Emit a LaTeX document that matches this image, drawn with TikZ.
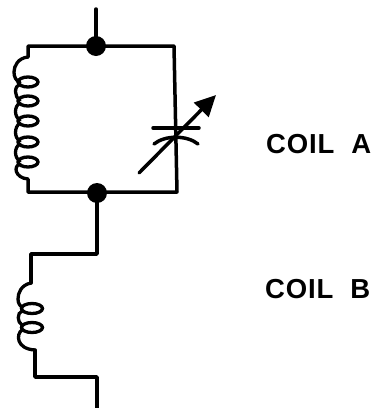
\documentclass[tikz,border=0pt]{standalone}
\usepackage{fontspec}
\setmainfont{Liberation Sans}
\usetikzlibrary{arrows.meta}
\tikzset{
  wire/.style={line width=3.5pt,line cap=round,line join=round,black},
  coilw/.style={line width=3.3pt,line cap=round,black},
  junction/.style={circle,fill=black,inner sep=0pt,minimum size=20pt},
  lbl/.style={anchor=base west,inner sep=0pt,font=\fontsize{27.5}{27.5}\selectfont\bfseries}
}
\begin{document}
\begin{tikzpicture}[x=1pt,y=-1pt]
\useasboundingbox (0,0) rectangle (371,408);
\fill[white] (0,0) rectangle (371,408);
\node[junction] (j1) at (96,46) {};
\node[junction] (j2) at (97,193) {};
\coordinate (top) at (96,9);
\coordinate (tl) at (28,46);
\coordinate (tr) at (174,46);
\coordinate (bl) at (28,192);
\coordinate (br) at (177,192);
\coordinate (ca) at (28,57);
\coordinate (cb) at (28,179);
\draw[wire] (top) -- (j1.center);
\draw[wire] (ca) -- (tl) -- (tr) -- (br) -- (bl) -- (cb);
% coil A
\draw[coilw] (ca) .. controls (18,58) and (14,66) .. (14,72) .. controls (14,77) and (16,81) .. (20,82);
\foreach \y in {82,101,121,142,162}{
  \draw[coilw] (28,\y) ellipse [x radius=10,y radius=5];
}
\draw[coilw] (20,84) .. controls (14,86) and (14,97) .. (20,100);
\draw[coilw] (20,103) .. controls (14,106) and (14,117) .. (20,120);
\draw[coilw] (20,123) .. controls (14,127) and (14,138) .. (20,141);
\draw[coilw] (20,144) .. controls (14,147) and (14,158) .. (20,161);
\draw[coilw] (20,164) .. controls (13,166) and (15,178) .. (cb);
% capacitor
\coordinate (p1) at (153,128); \coordinate (p2) at (199,128);
\coordinate (q1) at (154,144); \coordinate (q2) at (198,144);
\coordinate (a1) at (139,173); \coordinate (a2) at (216,95);
\draw[wire] (p1) -- (p2);
\draw[wire] (q1) .. controls (165,135) and (187,135) .. (q2);
\draw[wire,-{Triangle[length=21pt,width=20pt]}] (a1) -- (a2);
% lower
\coordinate (w1) at (97,254);
\coordinate (w2) at (31,254);
\coordinate (c1) at (31,283);
\coordinate (c2) at (35,350);
\coordinate (w3) at (35,377);
\coordinate (w4) at (97,377);
\coordinate (bot) at (97,408);
\draw[wire] (j2.center) -- (w1) -- (w2) -- (c1);
\draw[wire] (c2) -- (w3) -- (w4) -- (bot);
\draw[coilw] (c1) .. controls (21,285) and (18,293) .. (18,299) .. controls (18,303) and (20,306) .. (22,307);
\draw[coilw] (32,308.5) ellipse [x radius=10.5,y radius=5];
\draw[coilw] (32,327.5) ellipse [x radius=10.5,y radius=5];
\draw[coilw] (22,311) .. controls (17,313) and (17,322) .. (22,325);
\draw[coilw] (22,330) .. controls (16,334) and (16,349) .. (c2);
% labels
\node[lbl] (la) at (266,153) {\addfontfeature{LetterSpace=3}COIL\hspace{17pt}A};
\node[lbl] (lb) at (265,298.5) {\addfontfeature{LetterSpace=3}COIL\hspace{17pt}B};
\end{tikzpicture}
\end{document}
